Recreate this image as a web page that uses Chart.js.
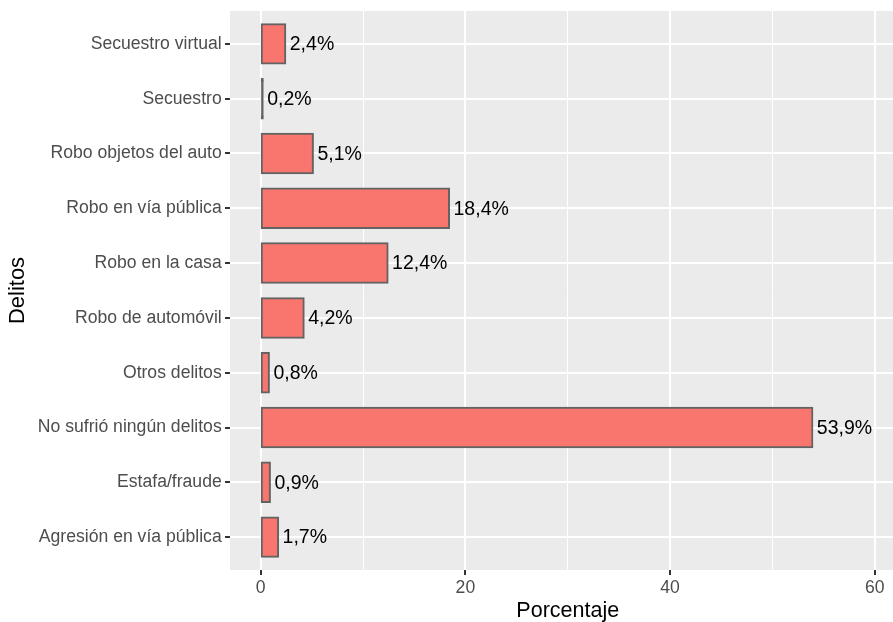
<!DOCTYPE html>
<html>
<head>
<meta charset="utf-8">
<script src="https://cdn.jsdelivr.net/npm/chart.js@4.4.1/dist/chart.umd.min.js"></script>
<style>
    html, body { margin: 0; padding: 0; background: #ffffff; overflow: hidden; }
    #wrap { position: relative; width: 920px; height: 622px; }
</style>
</head>
<body>
<div id="wrap"><canvas id="delitos-chart"></canvas></div>
<script>
// categorias de abajo hacia arriba, como en el grafico
const categories = [
    "Agresión en vía pública",
    "Estafa/fraude",
    "No sufrió ningún delitos",
    "Otros delitos",
    "Robo de automóvil",
    "Robo en la casa",
    "Robo en vía pública",
    "Robo objetos del auto",
    "Secuestro",
    "Secuestro virtual",
]
const percentages = [1.7, 0.9, 53.9, 0.8, 4.2, 12.4, 18.4, 5.1, 0.2, 2.4]
const xTickValues = [0, 10, 20, 30, 40, 50, 60]
const xTickLabels = ["0", "", "20", "", "40", "", "60"]

const FONT = '"Liberation Sans", Arial, Helvetica, sans-serif'
const BAR_FILL = "#F8766D"
const BAR_LINE = "#636363"

function formatPercent(value) {
    return value.toFixed(1).replace(".", ",") + "%"
}

function isMajor(value) {
    return value % 20 === 0
}

// barras muy finas: el borde tapa todo el relleno (como en ggplot)
function barFill(ctx) {
    const xScale = ctx.chart.scales.x
    if (!xScale || !ctx.raw) return BAR_FILL
    const w = xScale.getPixelForValue(ctx.raw.x) - xScale.getPixelForValue(0)
    return w < 4 ? BAR_LINE : BAR_FILL
}

const panelBackground = {
    id: "panelBackground",
    beforeDraw(chart) {
        const { ctx, chartArea } = chart
        ctx.save()
        ctx.fillStyle = "#EBEBEB"
        ctx.fillRect(chartArea.left, chartArea.top, chartArea.right - chartArea.left, chartArea.bottom - chartArea.top)
        ctx.restore()
    },
}

const barLabels = {
    id: "barLabels",
    afterDatasetsDraw(chart) {
        const { ctx } = chart
        const meta = chart.getDatasetMeta(0)
        ctx.save()
        ctx.font = "19.5px " + FONT
        ctx.fillStyle = "#000000"
        ctx.textAlign = "left"
        ctx.textBaseline = "middle"
        meta.data.forEach((bar, i) => {
            ctx.fillText(formatPercent(percentages[i]), bar.x + 4.5, bar.y + 1)
        })
        ctx.restore()
    },
}

new Chart(document.getElementById("delitos-chart"), {
    type: "bar",
    data: {
        datasets: [
            {
                data: percentages.map((value, i) => ({ x: value, y: i + 1 })),
                backgroundColor: barFill,
                borderColor: BAR_LINE,
                borderWidth: 2,
                borderSkipped: false,
                inflateAmount: 1,
                barPercentage: 0.72,
                categoryPercentage: 1,
            },
        ],
    },
    options: {
        indexAxis: "y",
        responsive: true,
        maintainAspectRatio: false,
        animation: false,
        layout: { padding: { top: 11, right: 14.5, left: 0, bottom: 0 } },
        plugins: {
            legend: { display: false },
            tooltip: { enabled: false },
        },
        scales: {
            x: {
                type: "linear",
                min: -3,
                max: 63,
                afterBuildTicks: (scale) => {
                    scale.ticks = xTickValues.map((v) => ({ value: v }))
                },
                afterFit: (scale) => {
                    scale.height = 52
                    scale.paddingLeft = 0
                    scale.paddingRight = 0
                },
                border: { display: false },
                grid: {
                    color: "#FFFFFF",
                    lineWidth: (ctx) => (ctx.tick && isMajor(ctx.tick.value) ? 2 : 1),
                    tickColor: (ctx) => (ctx.tick && isMajor(ctx.tick.value) ? "#333333" : "rgba(0,0,0,0)"),
                    tickWidth: 2,
                    tickLength: 5,
                },
                ticks: {
                    color: "#4D4D4D",
                    font: { family: FONT, size: 17.6 },
                    padding: 3,
                    maxRotation: 0,
                    autoSkip: false,
                    callback: (value, index) => xTickLabels[index],
                },
                title: {
                    display: true,
                    text: "Porcentaje",
                    color: "#000000",
                    font: { family: FONT, size: 21.5, lineHeight: 1 },
                    padding: { top: 0, bottom: 0.6 },
                },
            },
            y: {
                type: "linear",
                min: 0.4,
                max: 10.6,
                offset: false,
                afterBuildTicks: (scale) => {
                    scale.ticks = categories.map((c, i) => ({ value: i + 1 }))
                },
                afterFit: (scale) => {
                    scale.width = 230
                    scale.paddingTop = 0
                    scale.paddingBottom = 0
                },
                border: { display: false },
                grid: {
                    offset: false,
                    color: "#FFFFFF",
                    lineWidth: 2,
                    tickColor: "#333333",
                    tickWidth: 2,
                    tickLength: 5,
                },
                ticks: {
                    color: "#4D4D4D",
                    font: { family: FONT, size: 17.6 },
                    padding: 3.3,
                    autoSkip: false,
                    callback: (value) => categories[value - 1],
                },
                title: {
                    display: true,
                    text: "Delitos",
                    color: "#000000",
                    font: { family: FONT, size: 22, lineHeight: 1 },
                    padding: { top: 7.4, bottom: 0 },
                },
            },
        },
    },
    plugins: [panelBackground, barLabels],
})
</script>
</body>
</html>
